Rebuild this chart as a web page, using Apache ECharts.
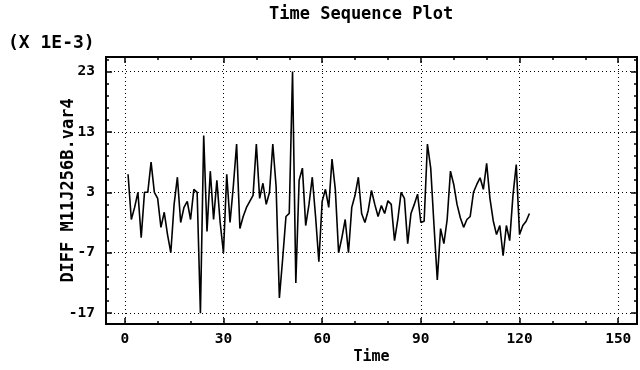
<!DOCTYPE html>
<html>
<head>
<meta charset="utf-8">
<script src="https://cdn.jsdelivr.net/npm/echarts@6/dist/echarts.min.js"></script>
<style>
  html, body { margin: 0; padding: 0; background: #fff; }
  #chart { width: 640px; height: 370px; }
</style>
</head>
<body>
<div id="chart"></div>
<script>
// Differenced series, shown in units of 1E-3
const diffValues = [
  6, -1.5, 0.5, 3, -4.5, 3, 3, 8, 3, 2,
  -2.8, -0.3, -4, -7, 1, 5.5, -2, 0.5, 1.5, -1.5,
  3.5, 3, -17, 12.4, -3.5, 6.5, -1.5, 5, -2, -7,
  6, -2, 4, 11, -3, -1, 0.5, 1.5, 2.5, 11,
  2, 4.5, 1, 3, 11, 4, -14.5, -8, -1, -0.5,
  23, -12, 5, 7, -2.5, 1, 5.5, -1, -8.5, 1.5,
  3.5, 0.5, 8.5, 3.5, -7, -4.5, -1.5, -7, 0.5, 2.5,
  5.5, -0.5, -2, 0, 3.3, 1, -1, 0.8, -0.5, 1.6,
  1, -5, -1.5, 3, 2, -5.5, -0.5, 1, 2.7, -2,
  -1.8, 11, 7, -2.5, -11.5, -3, -5.5, -1.5, 6.5, 4.3,
  1, -1.2, -2.8, -1.5, -1, 3, 4.3, 5.4, 3.5, 7.8,
  2, -1.7, -4, -2.5, -7.5, -2.5, -5, 2.5, 7.6, -4,
  -2.5, -1.8, -0.5
];
// Time index starts at 1 (first difference)
const timeStart = 1;

const xTicks = [0, 30, 60, 90, 120, 150];
const yTicks = [-17, -7, 3, 13, 23];
const xMinorStep = 10;
const yMinorStep = 2;

const xRange = [-5.7, 155.7];
const yRange = [-18.8, 25.4];

function minorTicks(majors, step, lo, hi) {
  const out = [];
  const first = Math.ceil((lo - majors[0]) / step);
  for (let k = first; majors[0] + k * step <= hi; k++) {
    const v = +(majors[0] + k * step).toFixed(6);
    if (!majors.includes(v)) out.push(v);
  }
  return out;
}
const xMinor = minorTicks(xTicks, xMinorStep, xRange[0], xRange[1]);
const yMinor = minorTicks(yTicks, yMinorStep, yRange[0], yRange[1]);

const seriesData = diffValues.map((v, i) => [timeStart + i, v]);

const FONT = 'DejaVu Sans Mono';
const txt = { fontFamily: FONT, fontWeight: 'bold', fontSize: 14.5, color: '#000' };
const bigTxt = Object.assign({}, txt, { fontSize: 17 });
const dotted = { color: '#000', width: 1, type: [1, 3] };

function tickAxis(kind, position, values, len, opts) {
  const base = {
    type: 'value',
    position: position,
    min: kind === 'x' ? xRange[0] : yRange[0],
    max: kind === 'x' ? xRange[1] : yRange[1],
    axisLine: { show: false, onZero: false },
    axisTick: { show: true, inside: true, length: len, customValues: values,
                lineStyle: { color: '#000', width: 1.5 } },
    axisLabel: { show: false },
    splitLine: { show: false },
    silent: true
  };
  return Object.assign(base, opts || {});
}

const chart = echarts.init(document.getElementById('chart'), null, { renderer: 'canvas' });
chart.setOption({
  animation: false,
  backgroundColor: '#fff',
  title: [
    { text: 'Time Sequence Plot', left: 264, top: 1, textStyle: bigTxt },
    { text: '(X 1E-3)', left: 3, top: 29, textStyle: Object.assign({}, bigTxt, { fontSize: 18 }) }
  ],
  grid: { left: 106, right: 3, top: 57, bottom: 46, show: true,
          borderColor: '#000', borderWidth: 2, backgroundColor: 'transparent' },
  xAxis: [
    tickAxis('x', 'bottom', xTicks, 6, {
      name: 'Time', nameLocation: 'middle', nameGap: 26, nameMoveOverlap: false,
      nameTextStyle: Object.assign({}, txt, { fontSize: 15 }),
      axisLabel: Object.assign({ show: true, customValues: xTicks, margin: 8 }, txt),
      splitLine: { show: true, lineStyle: dotted }
    }),
    tickAxis('x', 'bottom', xMinor, 3),
    tickAxis('x', 'top', xTicks, 6),
    tickAxis('x', 'top', xMinor, 3)
  ],
  yAxis: [
    tickAxis('y', 'left', yTicks, 6, {
      name: 'DIFF M11J256B.var4', nameLocation: 'middle', nameGap: 29, nameRotate: 90,
      nameMoveOverlap: false,
      nameTextStyle: bigTxt,
      axisLabel: Object.assign({ show: true, customValues: yTicks, margin: 11 }, txt),
      splitLine: { show: true, lineStyle: dotted }
    }),
    tickAxis('y', 'left', yMinor, 3),
    tickAxis('y', 'right', yTicks, 6),
    tickAxis('y', 'right', yMinor, 3)
  ],
  series: [{
    type: 'line',
    data: seriesData,
    showSymbol: false,
    symbol: 'none',
    lineStyle: { color: '#000', width: 1.6 },
    xAxisIndex: 0,
    yAxisIndex: 0
  }]
});
</script>
</body>
</html>
